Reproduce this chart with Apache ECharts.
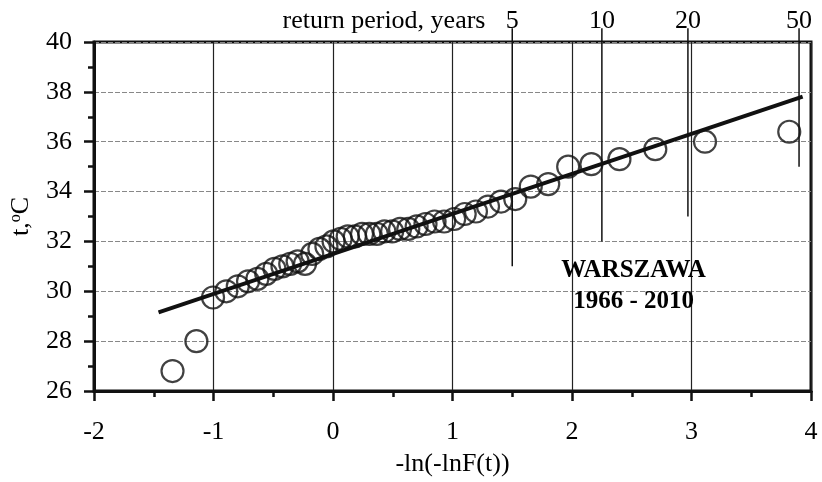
<!DOCTYPE html>
<html><head><meta charset="utf-8">
<script src="https://cdn.jsdelivr.net/npm/echarts@6/dist/echarts.min.js"></script>
<style>html,body{margin:0;padding:0;background:#fff}#c{width:822px;height:482px}</style>
</head><body><div id="c"></div>
<script>
// Gumbel reduced variate -ln(-lnF(t)) for each ranked observation (n = 45)
const reducedVariate = [-1.343,-1.143,-1.004,-0.893,-0.797,-0.711,-0.633,-0.559,-0.490,-0.423,
  -0.358,-0.296,-0.234,-0.174,-0.114,-0.055,0.005,0.064,0.123,0.183,
  0.243,0.304,0.367,0.430,0.495,0.561,0.630,0.700,0.774,0.850,
  0.930,1.014,1.102,1.196,1.297,1.406,1.525,1.655,1.801,1.968,
  2.162,2.397,2.697,3.113,3.818];
// Annual maximum temperature, ranked
const tempValues = [26.8,28.0,29.75,30.0,30.2,30.4,30.5,30.7,30.9,31.0,
  31.1,31.2,31.1,31.5,31.7,31.8,32.0,32.1,32.2,32.2,
  32.3,32.3,32.3,32.4,32.4,32.5,32.5,32.6,32.7,32.8,
  32.8,32.9,33.1,33.2,33.4,33.6,33.7,34.2,34.3,35.0,
  35.1,35.3,35.7,36.0,36.4];
// Fitted Gumbel line t = a + b*y
const fitIntercept = 31.5;
const fitSlope = 1.605;
const fitXRange = [-1.46, 3.93];
// Return periods
const returnPeriods = ['5','10','20','50'];
const returnX = [1.50, 2.25, 2.97, 3.90];
const returnLineBottom = [31, 32, 33, 35];
const returnLineTop = 40.55;
const returnLabelY = 40.85;
const returnTitle = 'return period, years';
const returnTitlePos = [1.28, 40.85];
const stationLines = ['WARSZAWA', '1966 - 2010'];
const stationPos = [[2.515, 30.83], [2.515, 29.59]];
const xTicks = {min: -2, max: 4, interval: 1};
const yTicks = {min: 26, max: 40, interval: 2};

const FONT = 'Liberation Serif';
const chart = echarts.init(document.getElementById('c'), null, {renderer: 'canvas'});

const pts = reducedVariate.map((x, i) => [x, tempValues[i]]);
const fitData = fitXRange.map(x => [x, fitIntercept + fitSlope * x]);

const txt = {fontFamily: FONT, color: '#000', textBorderWidth: 0, opacity: 1};

const series = [];
returnX.forEach((x, i) => {
  series.push({
    type: 'line', clip: false, symbol: 'none', silent: true,
    lineStyle: {color: '#111', width: 1.5},
    data: [[x, returnLineBottom[i]], [x, returnLineTop]], z: 3
  });
});
series.push({
  type: 'line', clip: false, symbol: 'none', silent: true,
  lineStyle: {color: '#111', width: 4},
  data: fitData, z: 4
});
series.push({
  type: 'scatter', symbol: 'circle', symbolSize: 22,
  itemStyle: {color: 'rgba(255,255,255,0)', borderColor: '#111', borderWidth: 2.2},
  data: pts, z: 5
});
series.push({
  type: 'scatter', clip: false, symbolSize: 1, silent: true,
  itemStyle: {color: 'rgba(0,0,0,0)'},
  data: returnX.map((x, i) => ({value: [x, returnLabelY], name: returnPeriods[i]})),
  label: Object.assign({show: true, position: 'inside', formatter: p => p.name, fontSize: 26}, txt), z: 6
});
series.push({
  type: 'scatter', clip: false, symbolSize: 1, silent: true,
  itemStyle: {color: 'rgba(0,0,0,0)'},
  data: [{value: returnTitlePos, name: returnTitle}],
  label: Object.assign({show: true, position: 'left', distance: 0, formatter: p => p.name, fontSize: 26}, txt), z: 6
});
series.push({
  type: 'scatter', clip: false, symbolSize: 1, silent: true,
  itemStyle: {color: 'rgba(0,0,0,0)'},
  data: stationLines.map((s, i) => ({value: stationPos[i], name: s})),
  label: Object.assign({show: true, position: 'inside', formatter: p => p.name,
    fontSize: 25, fontWeight: 'bold'}, txt), z: 6
});

chart.setOption({
  animation: false,
  backgroundColor: '#fff',
  grid: {left: 93, right: 11, top: 42, bottom: 89, show: true,
    borderColor: '#111', borderWidth: 3, backgroundColor: 'transparent'},
  xAxis: {
    type: 'value', min: xTicks.min, max: xTicks.max, interval: xTicks.interval,
    name: '-ln(-lnF(t))', nameLocation: 'middle', nameGap: 60,
    nameTextStyle: {fontFamily: FONT, fontSize: 26, color: '#000'},
    axisLine: {show: true, onZero: false, lineStyle: {color: '#111', width: 3}},
    axisTick: {show: true, inside: false, length: 10, lineStyle: {color: '#111', width: 2.5}},
    minorTick: {show: true, splitNumber: 2, length: 6, lineStyle: {color: '#111', width: 2.5}},
    axisLabel: {fontFamily: FONT, fontSize: 26, color: '#000', margin: 28},
    splitLine: {show: true, lineStyle: {color: '#222', width: 1.2}}
  },
  yAxis: {
    type: 'value', min: yTicks.min, max: yTicks.max, interval: yTicks.interval,
    name: '{n|t,}{s|o}{n|C}', nameLocation: 'middle', nameGap: 60, nameRotate: 90,
    nameTextStyle: {fontFamily: FONT, fontSize: 26, color: '#000',
      rich: {n: {fontFamily: FONT, fontSize: 26, color: '#000'},
             s: {fontFamily: FONT, fontSize: 16, color: '#000', verticalAlign: 'top', padding: [0, 0, 10, 0]}}},
    axisLine: {show: true, onZero: false, lineStyle: {color: '#111', width: 3}},
    axisTick: {show: true, inside: false, length: 10, lineStyle: {color: '#111', width: 2.5}},
    minorTick: {show: true, splitNumber: 2, length: 6, lineStyle: {color: '#111', width: 2.5}},
    axisLabel: {fontFamily: FONT, fontSize: 26, color: '#000', margin: 22},
    splitLine: {show: true, lineStyle: {color: '#888', width: 1, type: [5, 2]}}
  },
  series: series
});
</script></body></html>
